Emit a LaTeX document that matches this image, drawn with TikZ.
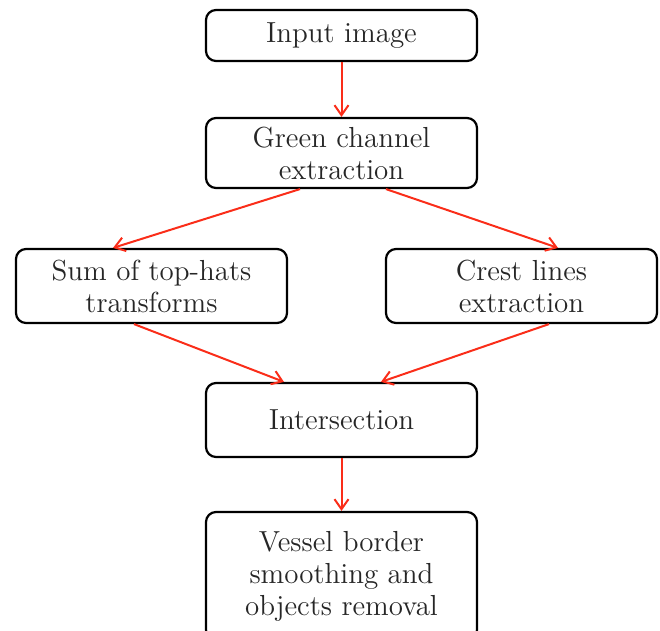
\documentclass[tikz,border=0pt]{standalone}
\usetikzlibrary{arrows.meta,calc}
\definecolor{arrred}{RGB}{250,45,25}
\begin{document}
\begin{tikzpicture}[x=0.5pt,y=-0.5pt,
  box/.style={draw=black,line width=1.1pt,rounded corners=5pt,minimum width=135.5pt,
    inner sep=0pt,align=center,font=\fontsize{14.5}{16}\selectfont,text=black!85},
  arr/.style={draw=arrred,line width=1pt,-{Straight Barb[length=5pt,width=7pt]}}]
\useasboundingbox (0,0) rectangle (660,631);
\node[box,minimum height=25.5pt] (input) at (341.5,35.5) {Input image};
\node[box,minimum height=35pt] (green) at (341.5,153) {Green channel\\extraction};
\node[box,minimum height=37pt] (sum) at (151.5,286) {Sum of top-hats\\transforms};
\node[box,minimum height=37pt] (crest) at (521.5,286) {Crest lines\\extraction};
\node[box,minimum height=37pt] (inter) at (341.5,420) {Intersection};
\node[box,minimum height=64pt] (vessel) at (341.5,576) {Vessel border\\smoothing and\\objects removal};
\draw[arr] (input.south) -- (green.north);
\draw[arr] ($(green.south)+(-41.5,0)$) -- ($(sum.north)+(-38.5,0)$);
\draw[arr] ($(green.south)+(44.5,0)$) -- ($(crest.north)+(36.5,0)$);
\draw[arr] ($(sum.south)+(-17.5,0)$) -- ($(inter.north)+(-57.5,0)$);
\draw[arr] ($(crest.south)+(27.5,0)$) -- ($(inter.north)+(39.5,0)$);
\draw[arr] (inter.south) -- (vessel.north);
\end{tikzpicture}
\end{document}
